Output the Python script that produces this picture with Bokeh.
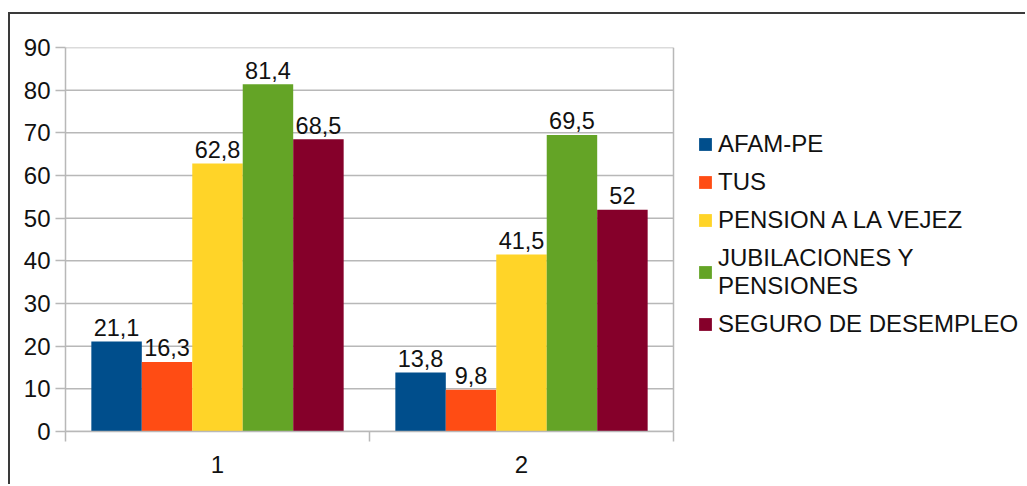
from bokeh.plotting import figure
from bokeh.models import FixedTicker, Legend, LegendItem, Range1d
from bokeh.embed import file_html
from bokeh.resources import INLINE
from bokeh.core.properties import value

categories = ["1", "2"]
series_names = ["AFAM-PE", "TUS", "PENSION A LA VEJEZ", "JUBILACIONES Y\nPENSIONES", "SEGURO DE DESEMPLEO"]
afam_pe = [21.1, 13.8]
tus = [16.3, 9.8]
pension_vejez = [62.8, 41.5]
jubilaciones = [81.4, 69.5]
seguro_desempleo = [68.5, 52]
series_values = [afam_pe, tus, pension_vejez, jubilaciones, seguro_desempleo]
colors = ["#004e8c", "#ff4c14", "#ffd428", "#64a426", "#85002a"]
y_ticks = [0, 10, 20, 30, 40, 50, 60, 70, 80, 90]

FONT = "Liberation Sans"
TXT = "#111111"
GRID = "#b8b8b8"

OX, OY = 10, 14          # page offset of the canvas (inside the dark border)
PLOT_L, PLOT_R = 65, 673  # page x of the plotting wall
PLOT_T, PLOT_B = 47, 431  # page y of the plotting wall


def fmt(v):
    s = ("%.1f" % v).rstrip("0").rstrip(".")
    return s.replace(".", ",")


W, H = 1027 - OX, 486 - OY
ncat = len(categories)
# the frame spans to the right edge so the legend is not clipped; the wall covers [0, ncat]
x_end = ncat * (1027 - PLOT_L) / (PLOT_R - PLOT_L)
p = figure(width=W, height=H, x_range=Range1d(0, x_end), y_range=Range1d(0, 90),
           output_backend="svg", toolbar_location=None, title=None,
           min_border_left=PLOT_L - OX, min_border_right=0, min_border_top=PLOT_T - OY,
           min_border_bottom=H - (PLOT_B - OY))
p.margin = (OY - 2, 0, 0, OX - 2)
p.styles = {"border-left": "2px solid #3a3a3a", "border-top": "2px solid #3a3a3a"}
p.background_fill_color = "white"
p.border_fill_color = "white"
p.outline_line_color = None

# wall grid lines and right edge of the wall
p.segment(x0=[0] * len(y_ticks), x1=[ncat] * len(y_ticks), y0=y_ticks, y1=y_ticks,
          line_color=GRID, line_width=1.5)
p.segment(x0=[ncat], x1=[ncat], y0=[y_ticks[0]], y1=[y_ticks[-1]], line_color=GRID, line_width=1.5)

bw = 0.166
renderers = []
for k, vals in enumerate(series_values):
    xs = [i + 0.5 + (k - 2) * bw for i in range(ncat)]
    r = p.vbar(x=xs, top=vals, width=bw, fill_color=colors[k], line_color=None)
    renderers.append(r)
    p.text(x=xs, y=vals, text=[fmt(v) for v in vals], text_align="center", text_baseline="alphabetic",
           y_offset=-14, text_font=value(FONT), text_font_size="23.5px", text_color=TXT)

# y axis
p.yaxis.ticker = FixedTicker(ticks=y_ticks)
p.yaxis.major_tick_out = 10
p.yaxis.major_tick_in = 0
p.yaxis.minor_tick_line_color = None
p.yaxis.axis_line_color = GRID
p.yaxis.axis_line_width = 1.5
p.yaxis.major_tick_line_color = GRID
p.yaxis.major_tick_line_width = 1.5
p.yaxis.major_label_standoff = 5
p.yaxis.major_label_text_font = FONT
p.yaxis.major_label_text_font_size = "24px"
p.yaxis.major_label_text_color = TXT

# x axis
p.xaxis.bounds = (0, ncat)
p.xaxis.ticker = FixedTicker(ticks=[i + 0.5 for i in range(ncat)], minor_ticks=list(range(ncat + 1)))
p.xaxis.major_label_overrides = {i + 0.5: c for i, c in enumerate(categories)}
p.xaxis.major_tick_line_color = None
p.xaxis.major_tick_out = 0
p.xaxis.major_tick_in = 0
p.xaxis.minor_tick_out = 10
p.xaxis.minor_tick_in = 0
p.xaxis.minor_tick_line_color = GRID
p.xaxis.minor_tick_line_width = 1.5
p.xaxis.axis_line_color = GRID
p.xaxis.axis_line_width = 1.5
p.xaxis.major_label_standoff = 14
p.xaxis.major_label_text_font = FONT
p.xaxis.major_label_text_font_size = "24px"
p.xaxis.major_label_text_color = TXT

p.xgrid.visible = False
p.ygrid.visible = False

items = [LegendItem(label=n, renderers=[r]) for n, r in zip(series_names, renderers)]
legend = Legend(items=items, location=(632, 93), glyph_width=16, glyph_height=16,
                label_standoff=5, spacing=10, padding=0, margin=0,
                label_text_font=FONT, label_text_font_size="24px", label_text_color=TXT,
                border_line_color=None, background_fill_alpha=0)
p.add_layout(legend, "center")

open("out.html", "w").write(file_html(p, INLINE))
